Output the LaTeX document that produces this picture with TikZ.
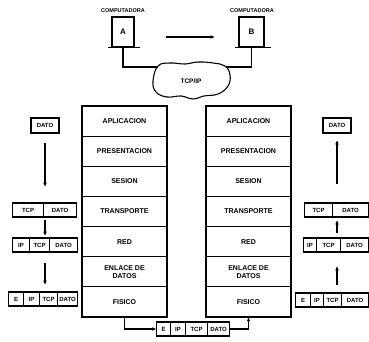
\documentclass[tikz,border=0pt]{standalone}
\usepackage{fontspec}
\setmainfont{Liberation Sans}
\usetikzlibrary{arrows.meta}
\tikzset{
  ln/.style={line width=1.1pt},
  lay/.style={draw, line width=1.1pt, minimum width=85pt, minimum height=30.14pt, inner sep=0pt,
    font=\fontsize{7}{7.6}\selectfont\bfseries, align=center},
  seg/.style={draw, line width=1.1pt, inner sep=0pt, anchor=west, minimum height=14pt,
    font=\fontsize{6}{6.5}\selectfont\bfseries},
  arr/.style={line width=1.1pt, -{Stealth[length=4pt,width=3.5pt]}},
  comp/.style={draw, line width=1.1pt, inner sep=0pt, minimum height=30pt,
    font=\fontsize{8}{8}\selectfont\bfseries},
  clab/.style={inner sep=0pt, font=\fontsize{5.5}{6}\selectfont\bfseries},
}
\begin{document}
\begin{tikzpicture}[x=1pt,y=-1pt]
\fill[white] (0,0) rectangle (369,342);
\useasboundingbox (0,0) rectangle (369,342);

% computers
\node[clab] (la) at (123,11) {COMPUTADORA};
\node[clab] (lb) at (252,11) {COMPUTADORA};
\node[comp, minimum width=22pt] (compA) at (123,32) {A};
\node[comp, minimum width=25pt] (compB) at (251.5,32) {B};
\draw[ln] ([xshift=-3pt]compA.south west) -- ([xshift=5pt]compA.south east);
\draw[ln] ([xshift=-3pt]compB.south west) -- ([xshift=6pt]compB.south east);
\draw[arr, shorten <=31pt, shorten >=24pt] ([yshift=-5pt]compA.east) -- ([yshift=-5pt]compB.west);

% cloud
\draw[ln] plot[smooth cycle, tension=0.7] coordinates {
  (158,66) (170,63) (185,64) (198,62) (213,63) (225,66) (230,75) (228,86)
  (218,94) (204,96) (193,99) (181,96) (167,97) (156,92) (153,81)};
\node[inner sep=0pt, font=\fontsize{6.5}{7}\selectfont\bfseries] (cloud) at (191,81) {TCP/IP};
\coordinate (cl) at (158,67);
\coordinate (cr) at (226,67);
\draw[ln] (compA.south) |- (cl);
\draw[ln] (compB.south) |- (cr);

% stacks
\foreach \s/\x in {L/124.5, R/248.5}{
  \node[lay] (\s1) at (\x,121.07) {APLICACION};
  \node[lay] (\s2) at (\x,151.21) {PRESENTACION};
  \node[lay] (\s3) at (\x,181.36) {SESION};
  \node[lay] (\s4) at (\x,211.50) {TRANSPORTE};
  \node[lay] (\s5) at (\x,241.64) {RED};
  \node[lay] (\s6) at (\x,271.79) {ENLACE DE\\DATOS};
  \node[lay] (\s7) at (\x,301.93) {FISICO};
}

% left packets
\node[seg, anchor=center, minimum width=28pt, minimum height=15pt] (P0) at (45,125.5) {DATO};
\node[seg, minimum width=31pt] (P1a) at (12,210) {TCP};
\node[seg, minimum width=33pt] (P1b) at (43,210) {DATO};
\node[seg, minimum width=17pt] (P2a) at (12,245) {IP};
\node[seg, minimum width=20pt] (P2b) at (29,245) {TCP};
\node[seg, minimum width=28pt] (P2c) at (49,245) {DATO};
\node[seg, minimum width=15pt] (P3a) at (8,299) {E};
\node[seg, minimum width=16pt] (P3b) at (23,299) {IP};
\node[seg, minimum width=18pt] (P3c) at (39,299) {TCP};
\node[seg, minimum width=20pt] (P3d) at (57,299) {DATO};
\draw[arr, shorten <=9pt, shorten >=16pt] (P0.south) -- (P0.south |- P1b.north);
\draw[arr, shorten <=2pt, shorten >=2pt] (P0.south |- P1b.south) -- (P0.south |- P2b.north);
\draw[arr, shorten <=10pt, shorten >=7pt] (P0.south |- P2b.south) -- (P0.south |- P3c.north);

% right packets
\node[seg, anchor=center, minimum width=28pt, minimum height=15pt] (Q0) at (337,125.5) {DATO};
\node[seg, minimum width=28pt] (Q1a) at (304,210) {TCP};
\node[seg, minimum width=36pt] (Q1b) at (332,210) {DATO};
\node[seg, minimum width=13pt] (Q2a) at (303,245) {IP};
\node[seg, minimum width=24pt] (Q2b) at (316,245) {TCP};
\node[seg, minimum width=28pt] (Q2c) at (340,245) {DATO};
\node[seg, minimum width=15pt] (Q3a) at (295,300) {E};
\node[seg, minimum width=13pt] (Q3b) at (310,300) {IP};
\node[seg, minimum width=18pt] (Q3c) at (323,300) {TCP};
\node[seg, minimum width=27pt] (Q3d) at (341,300) {DATO};
\draw[arr, shorten <=18pt, shorten >=7pt] (Q0.south |- Q1b.north) -- (Q0.south);
\draw[arr, shorten <=4pt, shorten >=3pt] (Q0.south |- Q2b.north) -- (Q0.south |- Q1b.south);
\draw[arr, shorten <=7pt, shorten >=14pt] (Q0.south |- Q3c.north) -- (Q0.south |- Q2b.south);

% bottom packet
\node[seg, minimum width=14pt] (B1) at (156,329) {E};
\node[seg, minimum width=15pt] (B2) at (170,329) {IP};
\node[seg, minimum width=22pt] (B3) at (185,329) {TCP};
\node[seg, minimum width=22pt] (B4) at (207,329) {DATO};
\draw[arr] (L7.south) |- (B1.west);
\draw[arr] (B4.east) -| (R7.south);
\end{tikzpicture}
\end{document}
